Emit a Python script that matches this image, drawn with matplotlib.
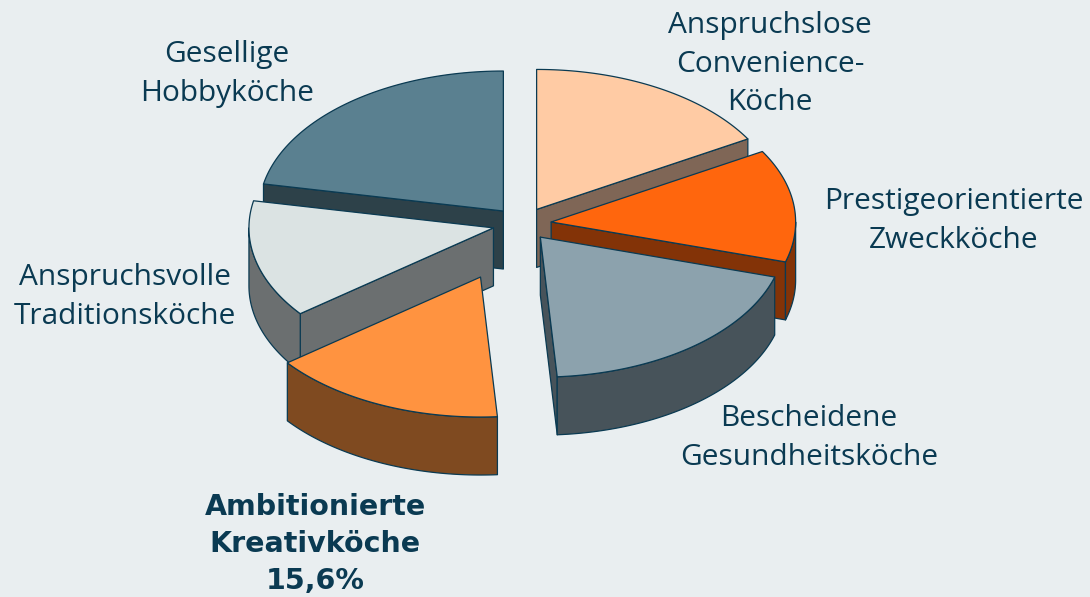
"""Exploded 3D pie: Kochtypen."""
import matplotlib

matplotlib.use("Agg")
import matplotlib.pyplot as plt  # noqa: E402
import numpy as np  # noqa: E402
from matplotlib.patches import Polygon  # noqa: E402

names = ["Anspruchslose", "Prestigeorientierte", "Bescheidene",
         "Ambitionierte", "Anspruchsvolle", "Gesellige"]
shares = [16.6, 13.0, 19.3, 15.6, 13.6, 21.9]
explode = [0.12, 0.12, 0.12, 0.415, 0.12, 0.12]
top_colors = ["#ffcba4", "#ff660d", "#8ca2ad", "#ff9340", "#dbe3e3", "#5a8090"]
side_colors = ["#7f6656", "#833307", "#47535a", "#7f4a20", "#6b6f70", "#2d4149"]

BG = "#e9eef0"
INK = "#0a3a52"
CX, CY = 522, 224   # pie centre in pixels
RX, RY = 244.5, 140   # ellipse radii
DEPTH = 58


def rim(cx, cy, t0, t1, n=60):
    t = np.radians(np.linspace(t0, t1, n))
    return np.column_stack([cx + RX * np.sin(t), cy - RY * np.cos(t)])


fig = plt.figure(figsize=(10.9, 5.97), dpi=100, facecolor=BG)
ax = fig.add_axes([0, 0, 1, 1])
ax.set_xlim(0, 1090); ax.set_ylim(597, 0); ax.axis("off")

# slice angles from shares, clockwise from 12 o'clock
edges = np.cumsum([0] + shares) * 360 / sum(shares)
slices = []
for i in range(len(shares)):
    t0, t1 = edges[i], edges[i + 1]
    mid = np.radians((t0 + t1) / 2)
    cx = CX + explode[i] * RX * np.sin(mid)
    cy = CY - explode[i] * RY * np.cos(mid)
    slices.append((cy, cx, t0, t1, i))

# back to front
z = 2
kw = dict(ec=INK, lw=0.9, joinstyle="round")
for cy, cx, t0, t1, i in sorted(slices):
    apex = np.array([cx, cy])
    down = np.array([0, DEPTH])
    # radial walls facing the viewer
    for t, visible in ((t0, np.sin(np.radians(t0)) < -1e-6), (t1, np.sin(np.radians(t1)) > 1e-6)):
        if visible:
            p = rim(cx, cy, t, t, 1)[0]
            ax.add_patch(Polygon([apex, p, p + down, apex + down], fc=side_colors[i], zorder=z, **kw))
            z += 1
    # front rim
    a, b = max(t0, 90), min(t1, 270)
    if a < b:
        arc = rim(cx, cy, a, b)
        ax.add_patch(Polygon(np.vstack([arc, arc[::-1] + down]), fc=side_colors[i], zorder=z, **kw))
        z += 1
    ax.add_patch(Polygon(np.vstack([apex, rim(cx, cy, t0, t1)]), fc=top_colors[i], zorder=z, **kw))
    z += 1

label_font = dict(family="Open Sans", fontsize=21.5, color=INK, ha="center", va="center", linespacing=1.43)
ax.text(770, 64, "Anspruchslose\nConvenience-\nKöche", zorder=z, **label_font)
ax.text(954, 221, "Prestigeorientierte\nZweckköche", zorder=z, **label_font)
ax.text(809, 438, "Bescheidene\nGesundheitsköche", zorder=z, **label_font)
ax.text(125, 297, "Anspruchsvolle\nTraditionsköche", zorder=z, **label_font)
ax.text(227, 74, "Gesellige\nHobbyköche", zorder=z, **label_font)
ax.text(315, 544, "Ambitionierte\nKreativköche\n15,6%", family="DejaVu Sans", fontweight="bold",
        fontsize=20.5, color=INK, ha="center", va="center", linespacing=1.39, zorder=z)

fig.savefig("out.png", dpi=100, facecolor=BG)
plt.close(fig)
